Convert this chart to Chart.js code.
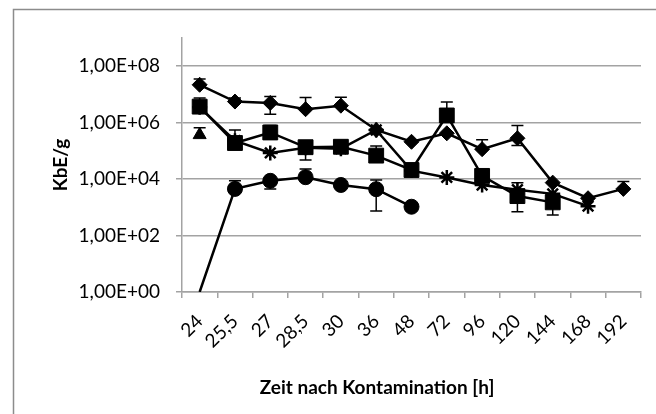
<!DOCTYPE html>
<html>
<head>
<meta charset="utf-8">
<script src="https://cdn.jsdelivr.net/npm/chart.js@4.4.1/dist/chart.umd.min.js"></script>
<style>
  html, body { margin: 0; padding: 0; background: #fff; }
  #chart { display: block; }
</style>
</head>
<body>
<canvas id="chart" width="656" height="414"></canvas>
<script>
// Zeitpunkte nach Kontamination [h]
var zeiten = ['24', '25,5', '27', '28,5', '30', '36', '48', '72', '96', '120', '144', '168', '192'];

// KbE/g je Versuchsreihe (Mittelwerte)
var rauten   = [2.2e7, 5.6e6, 5e6, 3e6, 4e6, 5.5e5, 2.1e5, 4.2e5, 1.15e5, 2.8e5, 7.5e3, 2.1e3, 4.5e3];
var quadrate = [3.7e6, 1.9e5, 4.5e5, 1.35e5, 1.4e5, 6.8e4, 2.1e4, 1.8e6, 1.3e4, 2.5e3, 1.5e3, null, null];
var dreiecke = [3.7e5, null, null, null, null, null, null, null, null, null, null, null, null];
var sterne   = [3.5e6, 2.3e5, 8.5e4, 1.3e5, 1.2e5, 5.5e5, 2.0e4, 1.15e4, 6.2e3, 4.2e3, 3.0e3, 1.1e3, null];
var kreise   = [1, 4.5e3, 8.7e3, 1.17e4, 6.2e3, 4.4e3, 1.05e3, null, null, null, null, null, null];

// Fehlerbalken: obere / untere Enden (null = kein Balken)
var rautenHi   = [3.5e7, 7.5e6, 8.5e6, 7.8e6, 8e6, null, null, null, 2.5e5, 8e5, null, null, 8.2e3];
var rautenLo   = [null, null, 2e6, null, null, null, null, null, null, 1.55e5, null, null, null];
var quadrateHi = [7.5e6, null, 8e5, null, null, 1.5e5, null, 5.4e6, null, 7.4e3, null, null, null];
var quadrateLo = [null, null, null, 4.8e4, null, null, null, null, null, 7e2, 5.4e2, null, null];
var dreieckeHi = [6.6e5, null, null, null, null, null, null, null, null, null, null, null, null];
var sterneHi   = [null, 5.5e5, null, null, null, null, null, null, null, null, null, null, null];
var kreiseHi   = [null, 8.7e3, null, 2.3e4, null, 9.3e3, null, null, null, null, null, null, null];
var kreiseLo   = [null, null, 4.5e3, null, null, 7.4e2, null, null, null, null, null, null, null];

// beschriftete Stellen der log-Achse
var yTicks = [1, 1e2, 1e4, 1e6, 1e8];

var gridColor = '#a3a3a3';
var fontFam = 'Lato, "Open Sans", sans-serif';

function sciLabel(v) {
  var exp = Math.round(Math.log10(v));
  return '1,00E+' + (exp < 10 ? '0' : '') + exp;
}

function serie(label, data, style, radius, hi, lo) {
  return {
    label: label,
    data: data,
    borderColor: '#000',
    borderWidth: 2.5,
    tension: 0,
    pointStyle: style,
    pointRadius: function(ctx) { return ctx.raw > 1 ? radius : 0; },
    pointBackgroundColor: '#000',
    pointBorderColor: '#000',
    pointBorderWidth: style === 'star' ? 2.5 : 1,
    errHi: hi || [],
    errLo: lo || []
  };
}

// Fehlerbalken mit Querstrichen, unter den Linien
var errorBars = {
  id: 'errorBars',
  beforeDatasetsDraw: function(chart) {
    var ctx = chart.ctx, y = chart.scales.y;
    ctx.save();
    ctx.strokeStyle = '#000';
    ctx.lineWidth = 1.5;
    chart.data.datasets.forEach(function(ds, i) {
      var meta = chart.getDatasetMeta(i);
      meta.data.forEach(function(pt, j) {
        var v = ds.data[j];
        if (v == null) return;
        var py = y.getPixelForValue(v);
        [ds.errHi[j], ds.errLo[j]].forEach(function(e) {
          if (e == null) return;
          var ey = y.getPixelForValue(e);
          ctx.beginPath();
          ctx.moveTo(pt.x, py);
          ctx.lineTo(pt.x, ey);
          ctx.moveTo(pt.x - 6, ey);
          ctx.lineTo(pt.x + 6, ey);
          ctx.stroke();
        });
      });
    });
    ctx.restore();
  }
};

// Rahmen und x-Achsentitel
var frame = {
  id: 'frame',
  beforeDraw: function(chart) {
    var ctx = chart.ctx;
    ctx.save();
    ctx.fillStyle = '#fff';
    ctx.fillRect(0, 0, chart.width, chart.height);
    ctx.strokeStyle = '#8c8c8c';
    ctx.lineWidth = 1.5;
    ctx.strokeRect(13.5, 9.5, chart.width, chart.height);
    ctx.restore();
  },
  afterDraw: function(chart) {
    var ctx = chart.ctx, a = chart.chartArea;
    ctx.save();
    ctx.fillStyle = '#000';
    ctx.font = 'bold 19px ' + fontFam;
    ctx.textAlign = 'center';
    ctx.textBaseline = 'middle';
    ctx.fillText('Zeit nach Kontamination [h]', a.left + 195, 388);
    ctx.restore();
  }
};

new Chart(document.getElementById('chart'), {
  type: 'line',
  data: {
    labels: zeiten,
    datasets: [
      serie('Reihe 1', rauten, 'rectRot', 7.5, rautenHi, rautenLo),
      serie('Reihe 2', quadrate, 'rect', 10.5, quadrateHi, quadrateLo),
      serie('Reihe 3', dreiecke, 'triangle', 7.5, dreieckeHi),
      serie('Reihe 4', sterne, 'star', 7.5, sterneHi),
      serie('Reihe 5', kreise, 'circle', 7.5, kreiseHi, kreiseLo)
    ]
  },
  options: {
    responsive: false,
    animation: false,
    layout: { padding: { top: 38, right: 15, left: 0, bottom: 0 } },
    plugins: { legend: { display: false }, tooltip: { enabled: false } },
    scales: {
      x: {
        type: 'category',
        offset: true,
        grid: { drawOnChartArea: false, offset: true, tickLength: 6, color: gridColor, lineWidth: 1.5 },
        border: { color: gridColor, width: 1.5 },
        ticks: {
          minRotation: 45, maxRotation: 45, autoSkip: false, padding: 12,
          color: '#000', font: { family: fontFam, size: 19 }
        },
        afterFit: function(s) { s.height = 122; }
      },
      y: {
        type: 'logarithmic',
        min: 1,
        max: 1e9,
        afterBuildTicks: function(s) {
          s.ticks = yTicks.map(function(v) { return { value: v }; });
        },
        grid: { color: gridColor, lineWidth: 1.5, tickLength: 6 },
        border: { color: gridColor, width: 1.5 },
        ticks: {
          callback: sciLabel, padding: 16,
          color: '#000', font: { family: fontFam, size: 19 }
        },
        title: {
          display: true, text: 'KbE/g', color: '#000',
          font: { family: fontFam, size: 19, weight: 'bold' },
          padding: { top: 49, bottom: 0 }
        },
        afterFit: function(s) { s.width = 182; }
      }
    }
  },
  plugins: [errorBars, frame]
});
</script>
</body>
</html>
